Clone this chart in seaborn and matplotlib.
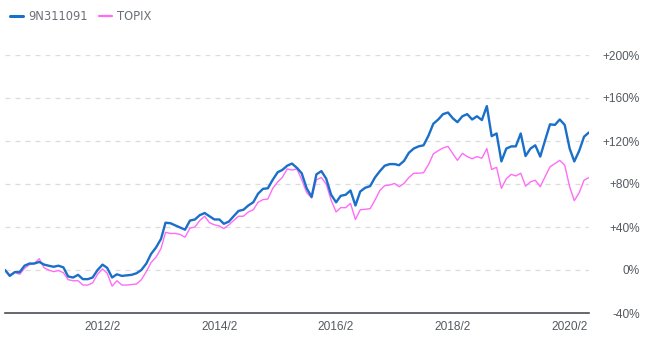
import matplotlib
matplotlib.use("Agg")
import matplotlib.pyplot as plt
import seaborn as sns
import pandas as pd
import numpy as np
from matplotlib.lines import Line2D

# ---- data (cumulative return, %) monthly 2010/6 .. 2020/6 ----
start_month = "2010-06-01"
fund_name = "9N311091"
index_name = "TOPIX"

fund = [0, -5.5, -2, -2, 4, 6, 6, 7.5, 5, 4,
        3, 4, 2.5, -6, -7, -4.5, -8.5, -8.5, -7, 0,
        5, 2, -7, -4, -5.5, -5, -4.5, -3, 0, 6,
        15, 21, 29, 44, 43.5, 41.5, 39.5, 37.5, 46, 47,
        51, 53, 50, 47, 47, 43, 45, 50, 55, 56,
        60, 63, 71, 75.5, 76, 84, 91, 93, 97, 99,
        95, 90, 76, 68, 89, 92, 85, 70, 63, 69,
        70, 74, 60, 73, 76.5, 78, 86, 92, 97, 98.5,
        98.5, 97.5, 101.5, 109, 113, 115, 116, 125, 136, 140,
        145, 146.5, 141, 137.5, 143, 145, 140, 143, 139.5, 152.5,
        124.5, 127, 101, 113, 115, 115, 127, 106, 113, 116,
        105.5, 121, 135.5, 135, 140, 135, 113, 101, 111, 124,
        128]

topix = [0, -4.5, -2, -4, 1.5, 5, 6, 10.5, 2, 0,
         -1.5, -0.5, -2.5, -9, -10, -10, -14, -14, -12, -4,
         1, -3, -15, -10, -14, -14, -13.5, -13, -9, -1.5,
         7, 12, 20, 35, 34, 34, 33, 30.5, 39, 40,
         46, 50, 44, 42, 41, 38.5, 42, 46, 50, 50,
         54, 56, 63, 65.5, 66, 76, 82, 86, 94, 93,
         94, 84, 72, 67, 84, 86, 80, 65, 54, 58,
         58, 62, 47, 56, 56.5, 57, 65, 74, 78.5, 79,
         80.5, 77.5, 80.5, 86, 90, 90, 90.5, 98, 108, 111,
         113.5, 115, 108, 102, 108.5, 105.5, 103.5, 105.5, 104, 113,
         93.5, 95.5, 76, 85, 89, 87.5, 90, 78, 82, 83.5,
         77.5, 87, 96, 99, 102, 97.5, 77.5, 64.5, 72, 83.5,
         86]

xtick_labels = ["2012/2", "2014/2", "2016/2", "2018/2", "2020/2"]
ytick_values = [-40, 0, 40, 80, 120, 160, 200]
ytick_labels = ["-40%", "0%", "+40%", "+80%", "+120%", "+160%", "+200%"]

dates = pd.date_range(start_month, periods=len(fund), freq="MS")
df = pd.DataFrame({
    "date": np.concatenate([dates, dates]),
    "value": fund + topix,
    "series": [fund_name] * len(fund) + [index_name] * len(topix),
})

BLUE = "#1a6fc9"
PINK = "#ff6cf5"

sns.set_theme(style="white")
plt.rcParams["font.family"] = ["DejaVu Sans"]

fig = plt.figure(figsize=(6.6, 3.41), dpi=100)
ax = fig.add_axes([5 / 660, (341 - 313) / 341, (589 - 5) / 660, (313 - 55) / 341])

# grid lines
for v in ytick_values[1:]:
    ax.axhline(v, color="#dcdcdc", lw=0.9, ls=(0, (4, 4)), zorder=0)

sns.lineplot(data=df[df.series == index_name], x="date", y="value", color=PINK,
             lw=1.0, ax=ax, legend=False, zorder=2)
sns.lineplot(data=df[df.series == fund_name], x="date", y="value", color=BLUE,
             lw=1.7, ax=ax, legend=False, zorder=3)

ax.set_xlim(dates[0], dates[-1])
ax.set_ylim(-40, 200)

for s in ["top", "left", "right"]:
    ax.spines[s].set_visible(False)
ax.spines["bottom"].set_color("#4a4f55")
ax.spines["bottom"].set_linewidth(1.2)

xt = [pd.Timestamp(l.replace("/", "-") + "-01") for l in xtick_labels]
ax.set_xticks(xt)
ax.set_xticklabels(xtick_labels, family="Liberation Sans", fontsize=8.6, color="#555a60")
ax.tick_params(axis="x", length=0, pad=6)

ax.yaxis.tick_right()
ax.set_yticks(ytick_values)
ax.set_yticklabels(ytick_labels, family="Liberation Sans", fontsize=8.6, color="#555a60", ha="right")
ax.tick_params(axis="y", length=0, pad=36.5)
ax.set_xlabel("")
ax.set_ylabel("")

handles = [Line2D([], [], color=BLUE, lw=2.2), Line2D([], [], color=PINK, lw=1.6)]
fig.legend(handles, [fund_name, index_name], loc="upper left",
           bbox_to_anchor=(0.0, 1.0), ncol=2, frameon=False,
           handlelength=1.1, handletextpad=0.45, columnspacing=1.0,
           prop={"family": "DejaVu Sans", "size": 8.3}, labelcolor="#6b6f75",
           borderaxespad=0.5)

fig.savefig("out.png", dpi=100)
